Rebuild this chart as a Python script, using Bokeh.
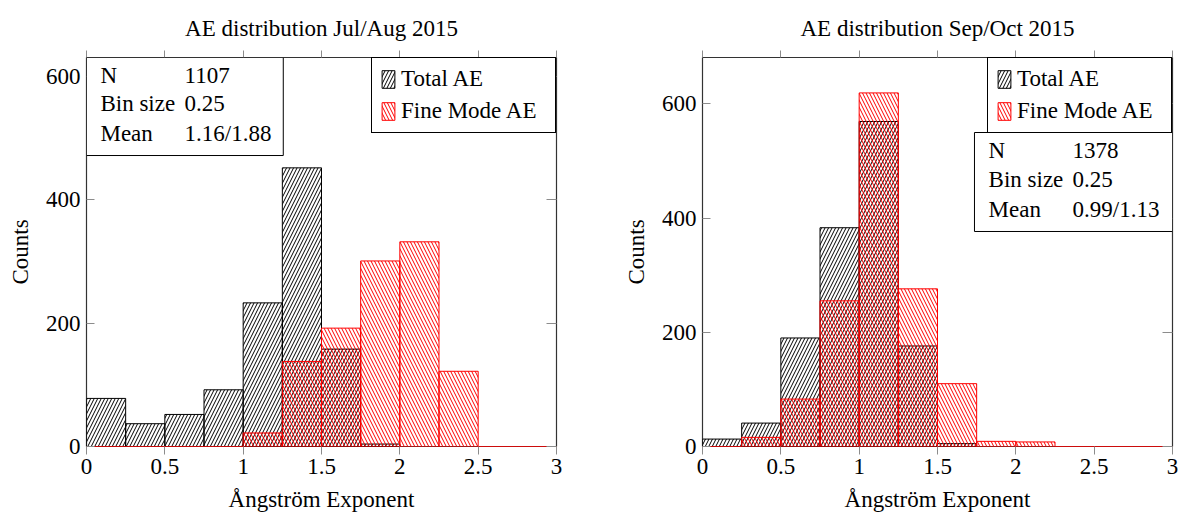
from bokeh.plotting import figure
from bokeh.layouts import row
from bokeh.models import (LinearAxis, Range1d, FixedTicker, Label, Legend, LegendItem,
                          BoxAnnotation, ColumnDataSource)
from bokeh.embed import file_html
from bokeh.resources import INLINE

# ---------------- data ----------------
bin_edges = [0, 0.25, 0.5, 0.75, 1.0, 1.25, 1.5, 1.75, 2.0, 2.25, 2.5, 2.75, 3.0]

julaug_total = [78, 37, 52, 92, 233, 452, 158, 4, 0, 0, 0, 0]
julaug_fine = [0, 0, 0, 0, 22, 138, 192, 301, 332, 122, 0, 0]

sepoct_total = [13, 41, 190, 383, 569, 176, 5, 0, 0, 0, 0, 0]
sepoct_fine = [0, 16, 83, 255, 619, 276, 110, 9, 8, 0, 0, 0]

titles = ["AE distribution Jul/Aug 2015", "AE distribution Sep/Oct 2015"]
info_n = ["1107", "1378"]
info_bin = ["0.25", "0.25"]
info_mean = ["1.16/1.88", "0.99/1.13"]
y_max = [631, 681]

x_ticks = [0, 0.5, 1, 1.5, 2, 2.5, 3]
x_tick_labels = ["0", "0.5", "1", "1.5", "2", "2.5", "3"]
y_ticks = [0, 200, 400, 600]

FONT = "Liberation Serif"
FS = "23px"
GREY = "#8c8c8c"


def make_plot(idx, total, fine, ymax, info_box, info_pos, border_l, border_r):
    p = figure(frame_width=470, frame_height=389, output_backend="svg",
               toolbar_location=None, x_range=Range1d(0, 3), y_range=Range1d(0, ymax),
               min_border_left=border_l, min_border_right=border_r,
               min_border_top=57, min_border_bottom=76)
    p.title.text = titles[idx]
    p.title.text_font = FONT
    p.title.text_font_size = FS
    p.title.text_font_style = "normal"
    p.title.align = "center"
    p.title.text_color = "black"
    p.title.standoff = 20
    p.xgrid.visible = False
    p.ygrid.visible = False
    p.outline_line_color = "#333333"
    p.outline_line_width = 1.2

    lefts = bin_edges[:-1]
    rights = bin_edges[1:]
    src_t = ColumnDataSource(dict(left=[l for l, v in zip(lefts, total) if v > 0],
                                  right=[r for r, v in zip(rights, total) if v > 0],
                                  top=[v for v in total if v > 0],
                                  bottom=[0 for v in total if v > 0]))
    src_f = ColumnDataSource(dict(left=lefts, right=rights, top=fine, bottom=[0] * len(fine)))
    rt = p.quad(left="left", right="right", top="top", bottom="bottom", source=src_t,
                fill_color=None, line_color="black", line_width=1,
                hatch_pattern="/", hatch_color="black", hatch_scale=7, hatch_weight=1)
    rf = p.quad(left="left", right="right", top="top", bottom="bottom", source=src_f,
                fill_color=None, line_color="red", line_width=1,
                hatch_pattern="\\", hatch_color="red", hatch_scale=7, hatch_weight=1)

    # axes
    xa = p.xaxis[0]
    xa.ticker = FixedTicker(ticks=x_ticks)
    xa.major_label_overrides = {float(t): s for t, s in zip(x_ticks, x_tick_labels)}
    xa.axis_label = "Ångström Exponent"
    ya = p.yaxis[0]
    ya.ticker = FixedTicker(ticks=y_ticks)
    ya.axis_label = "Counts"
    for ax in (xa, ya):
        ax.axis_line_color = None
        ax.major_tick_line_color = GREY
        ax.minor_tick_line_color = None
        ax.major_label_text_font = FONT
        ax.major_label_text_font_size = FS
        ax.major_label_text_color = "black"
        ax.axis_label_text_font = FONT
        ax.axis_label_text_font_size = FS
        ax.axis_label_text_font_style = "normal"
        ax.axis_label_text_color = "black"
    xa.major_tick_in = 0
    xa.major_tick_out = 8
    xa.major_label_standoff = 4
    xa.axis_label_standoff = 10
    ya.major_tick_in = 8
    ya.major_tick_out = 0
    ya.major_label_standoff = 6
    ya.axis_label_standoff = 10

    # mirrored ticks (no labels)
    top_ax = LinearAxis(ticker=FixedTicker(ticks=x_ticks), axis_line_color=None,
                        major_tick_line_color=GREY, major_tick_in=0, major_tick_out=7,
                        minor_tick_line_color=None,
                        major_label_overrides={float(t): "" for t in x_ticks},
                        major_label_standoff=0)
    right_ax = LinearAxis(ticker=FixedTicker(ticks=y_ticks), axis_line_color=None,
                          major_tick_line_color=GREY, major_tick_in=10, major_tick_out=0,
                          minor_tick_line_color=None,
                          major_label_overrides={float(t): "" for t in y_ticks},
                          major_label_standoff=0)
    p.add_layout(top_ax, "above")
    p.add_layout(right_ax, "right")

    # info box
    bl, br, bb, bt = info_box
    p.add_layout(BoxAnnotation(left=bl, right=br, bottom=bb, top=bt, fill_color="white",
                               fill_alpha=1, line_color="black", line_alpha=1, line_width=1,
                               level="annotation"))
    xk, xv, ys = info_pos
    for key, val, yy in zip(["N", "Bin size", "Mean"], [info_n[idx], info_bin[idx], info_mean[idx]], ys):
        for xx, txt in ((xk, key), (xv, val)):
            p.add_layout(Label(x=xx, y=yy, text=txt, text_font=FONT, text_font_size=FS,
                               text_baseline="middle", text_align="left", text_color="black"))

    legend = Legend(items=[LegendItem(label="Total AE", renderers=[rt]),
                           LegendItem(label="Fine Mode AE", renderers=[rf])],
                    location="top_right", margin=0, padding=8, spacing=6,
                    label_text_font=FONT, label_text_font_size=FS, label_text_color="black",
                    label_standoff=5, glyph_width=16, glyph_height=22, label_height=26,
                    label_width=146,
                    border_line_color="black", border_line_width=1, border_line_alpha=1,
                    background_fill_alpha=1)
    p.add_layout(legend)
    return p


p1 = make_plot(0, julaug_total, julaug_fine, y_max[0],
               (0, 1.256, 472, 631), (0.089, 0.626, (601.8, 556.4, 507.7)), 86, 30)
p2 = make_plot(1, sepoct_total, sepoct_fine, y_max[1],
               (1.736, 3.0, 376.4, 549.7), (1.826, 2.362, (518.2, 467.4, 414.9)), 116, 9)

layout = row(p1, p2)
open("out.html", "w").write(file_html(layout, INLINE))
